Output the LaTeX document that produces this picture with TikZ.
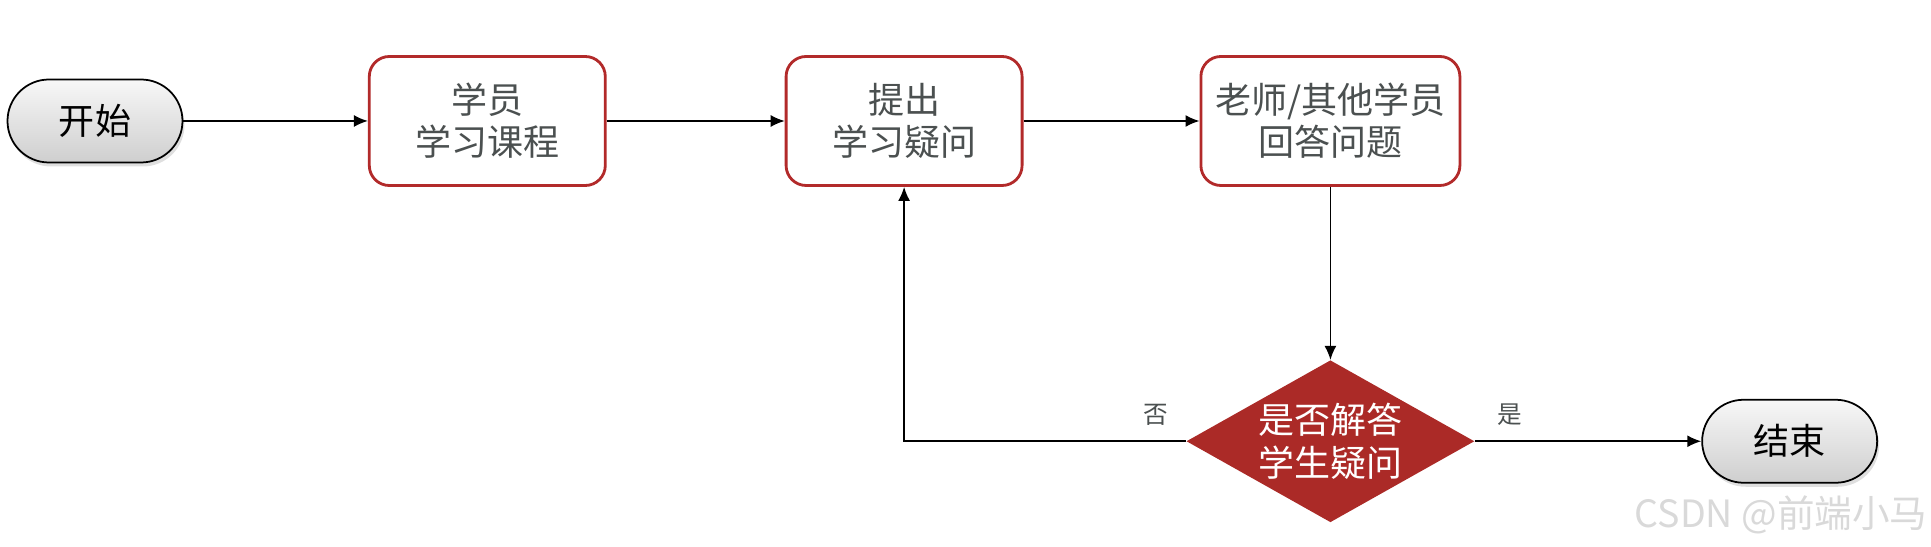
\documentclass[tikz,border=0pt]{standalone}
\usepackage{fontspec}
\newfontfamily\cjk{Noto Sans CJK SC}
\usetikzlibrary{arrows.meta, positioning, shapes.geometric, shadows}

\definecolor{boxred}{HTML}{B22A2A}
\definecolor{decred}{HTML}{AB2A27}
\definecolor{txtgray}{HTML}{4B5050}

\begin{document}
\begin{tikzpicture}[
    termbox/.style={
        draw,
        line width=1pt,
        rounded corners=0.83cm,
        minimum width=3.5cm,
        minimum height=1.66cm,
        top color=gray!6,
        bottom color=gray!38,
        drop shadow={opacity=0.25, shadow xshift=0.04cm, shadow yshift=-0.08cm},
        font=\cjk\fontsize{20.5}{24}\selectfont
    },
    stepbox/.style={
        draw=boxred,
        line width=1.6pt,
        rounded corners=0.4cm,
        minimum width=4.72cm,
        minimum height=2.58cm,
        align=center,
        fill=white,
        text=txtgray,
        font=\cjk\fontsize{20.5}{24}\selectfont
    },
    decbox/.style={
        diamond,
        aspect=1.78,
        inner sep=0pt,
        minimum width=5.76cm,
        minimum height=3.24cm,
        align=center,
        fill=decred,
        text=white,
        font=\cjk\fontsize{20.5}{24}\selectfont
    },
    lbl/.style={text=txtgray, font=\cjk\fontsize{14}{16}\selectfont},
    arrow/.style={-{Latex[length=2.8mm, width=2.4mm]}, line width=0.9pt}
]
\useasboundingbox (0,0) rectangle (38.62,10.94);

\node[termbox] (start) at (1.90,8.52) {开始};
\node[stepbox, right=3.69cm of start] (study) {学员\\学习课程};
\node[stepbox, right=3.56cm of study] (ask) {提出\\学习疑问};
\node[stepbox, right=3.52cm of ask, minimum width=5.18cm] (answer) {老师/其他学员\\回答问题};
\node[decbox, below=3.46cm of answer] (check) {是否解答\\学生疑问};
\node[termbox, right=4.53cm of check] (stop) {结束};

% watermark
\node[text=gray!30, font=\cjk\fontsize{21.4}{24}\selectfont] (mark) at (35.62,0.64) {CSDN @前端小马};

\draw[arrow] (start) -- (study);
\draw[arrow] (study) -- (ask);
\draw[arrow] (ask) -- (answer);
\draw[arrow] (answer) -- (check);
\draw[arrow] (check.west) -| node[lbl, pos=0.054, above=5pt] (no) {否} (ask.south);
\draw[arrow] (check.east) -- node[lbl, pos=0.155, above=5pt] (yes) {是} (stop.west);
\end{tikzpicture}
\end{document}
